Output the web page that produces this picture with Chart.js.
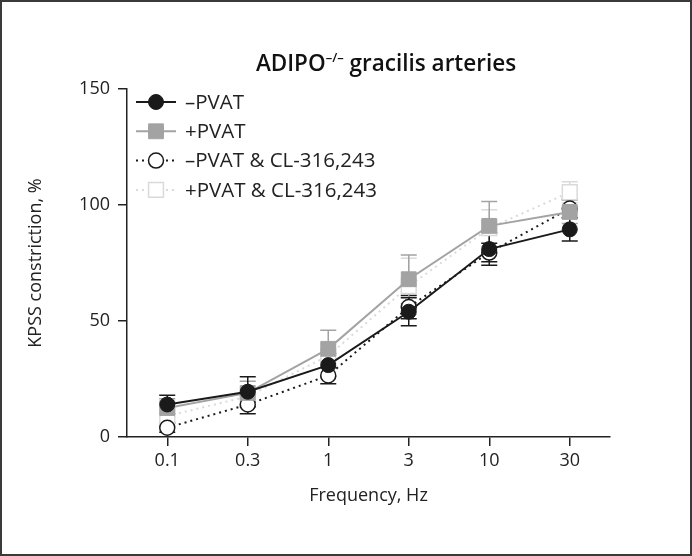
<!DOCTYPE html>
<html>
<head>
<meta charset="utf-8">
<script src="https://cdn.jsdelivr.net/npm/chart.js@4.4.1/dist/chart.umd.min.js"></script>
<style>
  html, body { margin: 0; padding: 0; background: #fff; }
  #wrap { position: relative; width: 692px; height: 556px; }
</style>
</head>
<body>
<div id="wrap"><canvas id="chart" width="692" height="556"></canvas></div>
<script>
// frequencies (Hz)
const freqLabels = ['0.1', '0.3', '1', '3', '10', '30'];

// KPSS constriction, % (mean) and SEM
const minusPvat = [14, 19.5, 31, 54, 81, 89.5];
const minusPvatErr = [4, 6.5, 5, 6, 7, 5];
const plusPvat = [12.5, 19, 38, 68, 91, 97];
const plusPvatErr = [4, 5, 8, 10.5, 10.5, 5];
const minusPvatCl = [4, 14, 26.5, 56, 79.5, 98.5];
const minusPvatClErr = [2, 4, 3.5, 5, 4, 4];
const plusPvatCl = [9, 17.5, 35, 65, 90, 105.5];
const plusPvatClErr = [3, 4, 5, 12, 8, 4.5];

const yTicks = [0, 50, 100, 150];

const FONT = "'Open Sans', 'DejaVu Sans', sans-serif";
Chart.defaults.font.family = FONT;
Chart.defaults.color = '#222';

// white background + frame
const framePlugin = {
    id: 'frame',
    beforeDraw(chart) {
        const ctx = chart.ctx;
        ctx.save();
        ctx.fillStyle = '#fff';
        ctx.fillRect(0, 0, chart.width, chart.height);
        ctx.strokeStyle = '#3a3a3a';
        ctx.lineWidth = 2;
        ctx.strokeRect(1, 1, chart.width - 2, chart.height - 2);
        ctx.restore();
    }
};

// error bars, drawn behind the markers
const errorBarPlugin = {
    id: 'errorBars',
    beforeDatasetsDraw(chart) {
        const ctx = chart.ctx;
        const y = chart.scales.y;
        for (let i = chart.data.datasets.length - 1; i >= 0; i--) {
            const ds = chart.data.datasets[i];
            const meta = chart.getDatasetMeta(i);
            ctx.save();
            ctx.strokeStyle = ds.errColor;
            ctx.lineWidth = 1.5;
            meta.data.forEach((pt, j) => {
                const e = ds.err[j];
                const top = y.getPixelForValue(ds.data[j] + e);
                const bot = y.getPixelForValue(ds.data[j] - e);
                ctx.beginPath();
                ctx.moveTo(pt.x, top); ctx.lineTo(pt.x, bot);
                ctx.moveTo(pt.x - 8, top); ctx.lineTo(pt.x + 8, top);
                ctx.moveTo(pt.x - 8, bot); ctx.lineTo(pt.x + 8, bot);
                ctx.stroke();
            });
            ctx.restore();
        }
    }
};

// title with superscript and a line+marker legend
const labelsPlugin = {
    id: 'labels',
    afterDraw(chart) {
        const ctx = chart.ctx;
        ctx.save();
        // title
        const big = "600 22.5px " + FONT;
        const small = "600 13px " + FONT;
        const parts = [['ADIPO', big, 0], ['\u2013/\u2013', small, -9], [' gracilis arteries', big, 0]];
        let w = 0;
        parts.forEach(p => { ctx.font = p[1]; w += ctx.measureText(p[0]).width; });
        let x = 386 - w / 2;
        ctx.fillStyle = '#111';
        ctx.textBaseline = 'alphabetic';
        parts.forEach(p => {
            ctx.font = p[1];
            ctx.fillText(p[0], x, 71 + p[2]);
            x += ctx.measureText(p[0]).width;
        });

        // legend
        const area = chart.chartArea;
        chart.data.datasets.forEach((ds, i) => {
            const ly = area.top + 13 + i * 29.3;
            const lx = area.left + 9;
            ctx.strokeStyle = ds.borderColor;
            ctx.lineWidth = ds.borderWidth;
            ctx.setLineDash(ds.borderDash || []);
            ctx.beginPath();
            ctx.moveTo(lx, ly); ctx.lineTo(lx + 40, ly);
            ctx.stroke();
            ctx.setLineDash([]);
            ctx.fillStyle = ds.pointBackgroundColor;
            ctx.strokeStyle = ds.pointBorderColor;
            ctx.lineWidth = ds.pointBorderWidth;
            Chart.helpers.drawPoint(ctx, {pointStyle: ds.pointStyle, radius: ds.pointRadius, borderWidth: ds.pointBorderWidth}, lx + 20, ly);
            ctx.fillStyle = '#222';
            ctx.font = "20.5px " + FONT;
            ctx.textBaseline = 'middle';
            ctx.fillText(ds.label, lx + 49, ly + 1);
        });
        ctx.restore();
    }
};

new Chart(document.getElementById('chart'), {
    type: 'line',
    data: {
        labels: freqLabels,
        datasets: [
            {
                label: '\u2013PVAT',
                data: minusPvat,
                err: minusPvatErr,
                errColor: '#1a1a1a',
                borderColor: '#1a1a1a',
                borderWidth: 2,
                pointStyle: 'circle',
                pointRadius: 7.5,
                pointBackgroundColor: '#1a1a1a',
                pointBorderColor: '#1a1a1a',
                pointBorderWidth: 1
            },
            {
                label: '+PVAT',
                data: plusPvat,
                err: plusPvatErr,
                errColor: '#a3a3a3',
                borderColor: '#a3a3a3',
                borderWidth: 2,
                pointStyle: 'rect',
                pointRadius: 10.5,
                pointBackgroundColor: '#a3a3a3',
                pointBorderColor: '#a3a3a3',
                pointBorderWidth: 1
            },
            {
                label: '\u2013PVAT & CL-316,243',
                data: minusPvatCl,
                err: minusPvatClErr,
                errColor: '#1a1a1a',
                borderColor: '#1a1a1a',
                borderWidth: 2,
                borderDash: [2, 4],
                pointStyle: 'circle',
                pointRadius: 7.5,
                pointBackgroundColor: '#fff',
                pointBorderColor: '#1a1a1a',
                pointBorderWidth: 1.5
            },
            {
                label: '+PVAT & CL-316,243',
                data: plusPvatCl,
                err: plusPvatClErr,
                errColor: '#dadada',
                borderColor: '#dadada',
                borderWidth: 2,
                borderDash: [2, 4],
                pointStyle: 'rect',
                pointRadius: 10.5,
                pointBackgroundColor: '#fff',
                pointBorderColor: '#dadada',
                pointBorderWidth: 1.5
            }
        ]
    },
    options: {
        responsive: false,
        animation: false,
        layout: { padding: { top: 89, right: 82, left: 0, bottom: 0 } },
        scales: {
            x: {
                offset: true,
                grid: { drawOnChartArea: false, drawTicks: true, tickLength: 9, color: '#222', lineWidth: 1.5 },
                border: { color: '#222', width: 1.5 },
                ticks: { font: { size: 18 }, padding: 4, color: '#222' },
                title: { display: true, text: 'Frequency, Hz', font: { size: 18 }, color: '#222', padding: { top: 49, bottom: 49 } },
                afterFit(scale) { scale.height = 119; }
            },
            y: {
                min: 0,
                max: 150,
                afterBuildTicks(scale) { scale.ticks = yTicks.map(v => ({ value: v })); },
                grid: { drawOnChartArea: false, drawTicks: true, tickLength: 9, color: '#222', lineWidth: 1.5 },
                border: { color: '#222', width: 1.5 },
                ticks: { font: { size: 18 }, padding: 8, color: '#222' },
                title: { display: true, text: 'KPSS constriction, %', font: { size: 18 }, color: '#222', padding: { top: 25, bottom: 25 } },
                afterFit(scale) { scale.width = 127; }
            }
        },
        plugins: {
            legend: { display: false },
            title: { display: false },
            tooltip: { enabled: false }
        }
    },
    plugins: [framePlugin, errorBarPlugin, labelsPlugin]
});
</script>
</body>
</html>
